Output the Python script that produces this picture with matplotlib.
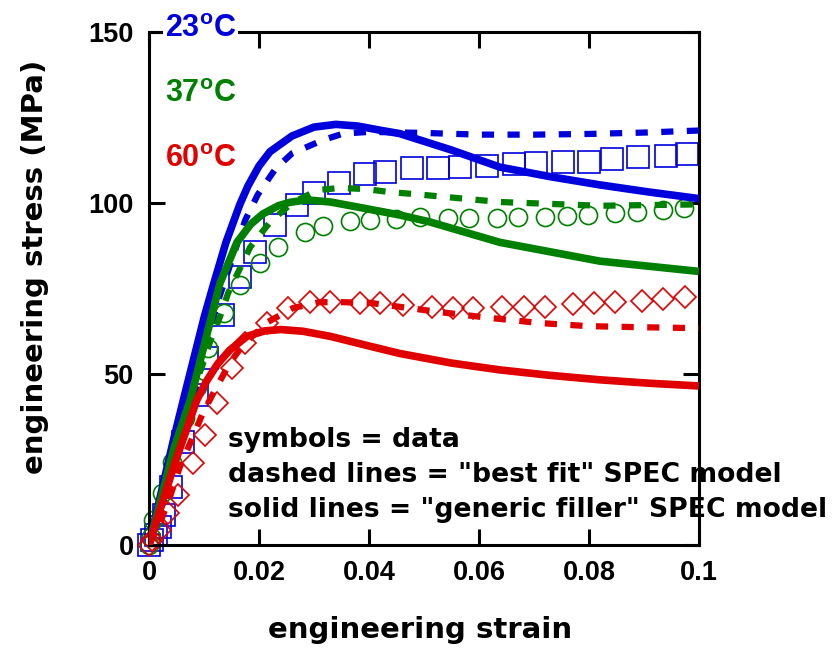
import matplotlib
matplotlib.use("Agg")
import matplotlib.pyplot as plt

# --- data --------------------------------------------------------------------
# 23 C
data23_strain = [0, 0.0005, 0.0012, 0.002, 0.0027, 0.004, 0.0062, 0.0087, 0.0105,
                 0.0135, 0.0165, 0.0193, 0.0229, 0.0269, 0.030, 0.0345, 0.0393,
                 0.0429, 0.0478, 0.0526, 0.0565, 0.0615, 0.0664, 0.0704, 0.0752,
                 0.080, 0.0842, 0.089, 0.094, 0.0978]
data23_stress = [0, 1.5, 3.0, 5.3, 8.8, 17.0, 30.1, 43.9, 54.7, 67.3, 78.4, 85.7,
                 93.6, 99.4, 102.9, 105.8, 108.5, 109.1, 110.2, 110.2, 110.5, 110.8,
                 111.4, 111.7, 112.0, 112.0, 112.9, 113.4, 113.7, 114.3]
fit23_strain = [0, 0.004, 0.0087, 0.0107, 0.0129, 0.0175, 0.0198, 0.023, 0.026,
                0.0316, 0.0353, 0.04, 0.05, 0.06, 0.07, 0.08, 0.09, 0.1]
fit23_stress = [0, 22, 47, 60.8, 73, 95, 102.5, 110, 114.5, 118.4, 120.3, 120.8,
                120.5, 120.0, 120.0, 120.2, 120.6, 121.2]
gen23_strain = [0, 0.0045, 0.0065, 0.0101, 0.0117, 0.014, 0.0165, 0.018, 0.020,
                0.022, 0.026, 0.030, 0.034, 0.038, 0.042, 0.0456, 0.055, 0.0638,
                0.073, 0.082, 0.091, 0.1]
gen23_stress = [0, 31, 44, 67, 76, 88.5, 99.5, 105, 110.8, 115, 119.6, 122.2,
                123, 122.5, 121.3, 120.3, 115.5, 110.5, 107.7, 105.3, 103.2, 101.3]

# 37 C
data37_strain = [0, 0.0003, 0.0008, 0.0024, 0.0042, 0.0065, 0.0087, 0.0107, 0.0136,
                 0.0165, 0.0202, 0.0235, 0.0284, 0.0316, 0.0365, 0.0402, 0.045,
                 0.0493, 0.0543, 0.0582, 0.0633, 0.0671, 0.072, 0.076, 0.0798,
                 0.0847, 0.0887, 0.0935, 0.0973]
data37_stress = [0, 2.3, 7.3, 15.2, 24.3, 37.1, 46.2, 57.6, 67.8, 76.0, 82.5, 87.1,
                 91.5, 93.3, 94.7, 95.0, 95.3, 95.9, 95.6, 95.6, 95.6, 95.9, 95.9,
                 96.2, 96.5, 97.0, 97.4, 98.0, 98.5]
fit37_strain = [0, 0.003, 0.0078, 0.0096, 0.0111, 0.0129, 0.0144, 0.0184, 0.022,
                0.026, 0.0307, 0.0347, 0.0393, 0.0438, 0.0484, 0.0638, 0.082, 0.1]
fit37_stress = [0, 13.5, 45.3, 52, 59.4, 66.7, 73.7, 87.1, 94.4, 100, 103.8, 104.4,
                104.1, 103.2, 102.6, 100.3, 99.2, 99.6]
gen37_strain = [0, 0.0045, 0.0075, 0.0129, 0.016, 0.0185, 0.0207, 0.0235, 0.0256,
                0.0287, 0.033, 0.039, 0.0456, 0.051, 0.0638, 0.082, 0.1]
gen37_stress = [0, 28, 42.4, 76.5, 88.5, 93.8, 96.8, 99.2, 100.2, 100.9, 100.3,
                98.5, 96.5, 94.5, 88.5, 83, 80]

# 60 C
data60_strain = [0, 0.0005, 0.002, 0.0035, 0.0053, 0.008, 0.0102, 0.0124, 0.0151,
                 0.0175, 0.0215, 0.0253, 0.0293, 0.0329, 0.0384, 0.042, 0.0462,
                 0.0514, 0.0553, 0.059, 0.0642, 0.0682, 0.072, 0.0771, 0.0809,
                 0.0847, 0.0896, 0.0935, 0.0975]
data60_stress = [0, 1.5, 4.4, 9.4, 14.6, 24.0, 32.2, 41.5, 51.8, 59.0, 64.9, 69.3,
                 71.0, 71.0, 70.8, 70.8, 70.2, 69.6, 69.3, 69.3, 69.6, 69.6, 69.6,
                 70.5, 70.8, 71.0, 71.3, 71.9, 72.5]
fit60_strain = [0, 0.002, 0.0038, 0.0056, 0.0075, 0.0098, 0.012, 0.0147, 0.0171,
                0.0216, 0.0262, 0.031, 0.0353, 0.0402, 0.0444, 0.0529, 0.062,
                0.0711, 0.0798, 0.0887, 0.1]
fit60_stress = [0, 6.4, 14, 22.8, 29.8, 38.6, 45.3, 53.2, 58.5, 65.2, 69.3, 71, 71,
                70.8, 69.9, 68.1, 66.4, 64.9, 64.0, 63.7, 63.4]
gen60_strain = [0, 0.0047, 0.0087, 0.0105, 0.0125, 0.0147, 0.0178, 0.021, 0.024,
                0.028, 0.033, 0.04, 0.0456, 0.055, 0.0638, 0.073, 0.082, 0.091, 0.1]
gen60_stress = [0, 24, 42.4, 48, 53, 57, 61, 62.6, 63, 62.5, 61, 58.2, 56, 53.2,
                51.2, 49.6, 48.3, 47.3, 46.5]

temps = ["23", "37", "60"]
colors = ["#0000dd", "#008000", "#e00000"]
markers = ["s", "o", "D"]
marker_sizes = [16, 13, 11.5]

data = [(data23_strain, data23_stress), (data37_strain, data37_stress),
        (data60_strain, data60_stress)]
fits = [(fit23_strain, fit23_stress), (fit37_strain, fit37_stress),
        (fit60_strain, fit60_stress)]
gens = [(gen23_strain, gen23_stress), (gen37_strain, gen37_stress),
        (gen60_strain, gen60_stress)]

TICK_FONT = "Liberation Sans"
LABEL_FONT = "DejaVu Sans"

fig = plt.figure(figsize=(8.37, 6.54), dpi=100)
ax = fig.add_axes([0.178, 0.1667, 0.657, 0.7843])

for (x, y), c, m, ms in zip(data, colors, markers, marker_sizes):
    ax.plot(x, y, linestyle="none", marker=m, ms=ms, mfc="none", mec=c, mew=1.2,
            clip_on=False, zorder=2)
for (x, y), c in zip(fits, colors):
    ax.plot(x, y, color=c, lw=4.5, dashes=(1.95, 2.15), zorder=3)
for (x, y), c in zip(gens, colors):
    ax.plot(x, y, color=c, lw=5.5, solid_capstyle="butt", zorder=3)

ax.set_xlim(0, 0.1)
ax.set_ylim(0, 150)
ax.set_xticks([0, 0.02, 0.04, 0.06, 0.08, 0.1])
ax.set_xticklabels(["0", "0.02", "0.04", "0.06", "0.08", "0.1"])
ax.set_yticks([0, 50, 100, 150])
ax.tick_params(direction="in", length=11.5, width=2.2, top=True, right=True, pad=11,
               labelsize=19.5)
for lab in ax.get_xticklabels() + ax.get_yticklabels():
    lab.set_fontfamily(TICK_FONT)
    lab.set_fontweight("bold")
for sp in ax.spines.values():
    sp.set_linewidth(2.2)

ax.set_xlabel("engineering strain", fontsize=21, fontweight="bold",
              family=LABEL_FONT)
ax.xaxis.set_label_coords(0.493, -0.166)
ax.xaxis.label.set_va("center")
ax.set_ylabel("engineering stress (MPa)", fontsize=21, fontweight="bold",
              family=LABEL_FONT)
ax.yaxis.set_label_coords(-0.207, 0.542)
ax.yaxis.label.set_va("center")

# temperature labels
for t, c, ypos in zip(temps, colors, [0.990, 0.8635, 0.737]):
    txt = ax.text(0.029, ypos, t + r"$^\mathregular{o}$C", transform=ax.transAxes,
                  color=c, fontsize=22, fontweight="bold", family=TICK_FONT,
                  va="baseline", ha="left", zorder=5)
    if t == "23":
        txt.set_bbox(dict(facecolor="white", edgecolor="none", pad=1))

notes = ['symbols = data',
         'dashed lines = "best fit" SPEC model',
         'solid lines = "generic filler" SPEC model']
for note, ypos in zip(notes, [0.191, 0.1228, 0.0546]):
    ax.text(0.1436, ypos, note, transform=ax.transAxes, fontsize=19.2,
            fontweight="bold", family=LABEL_FONT, va="baseline", ha="left",
            zorder=5)

fig.savefig("out.png", dpi=100)
